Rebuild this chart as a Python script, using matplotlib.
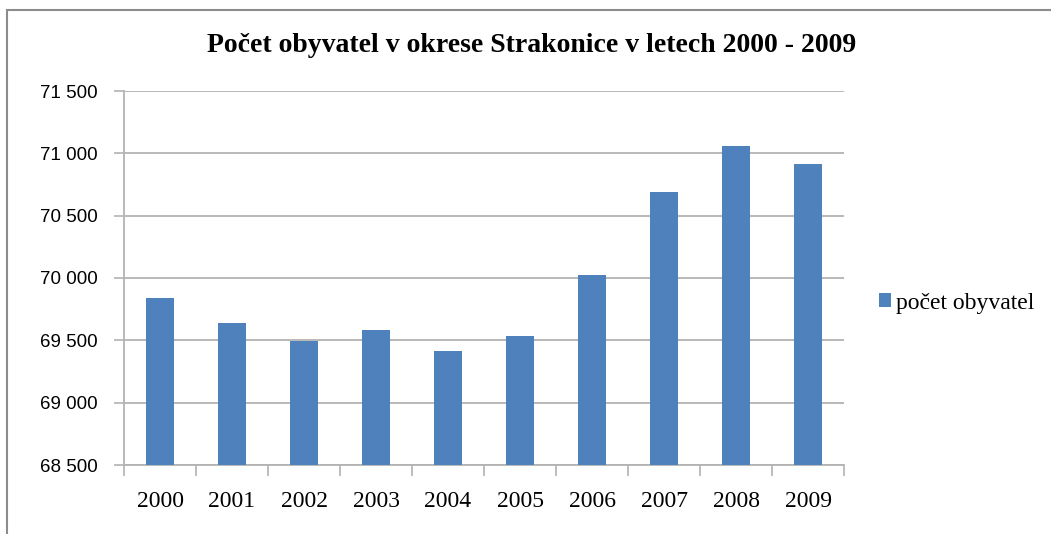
import numpy as np
import matplotlib
matplotlib.use("Agg")
import matplotlib.pyplot as plt
from matplotlib.ticker import FuncFormatter, FixedLocator
from matplotlib.patches import Rectangle

years = ['2000', '2001', '2002', '2003', '2004', '2005', '2006', '2007', '2008', '2009']
pocet = [69837, 69638, 69497, 69583, 69413, 69537, 70027, 70690, 71062, 70913]
y_ticks = [68500, 69000, 69500, 70000, 70500, 71000, 71500]

title = 'Počet obyvatel v okrese Strakonice v letech 2000 - 2009'
series_name = 'počet obyvatel'

bar_color = '#4F81BD'
grid_color = '#B3B3B3'
serif = 'Liberation Serif'
sans = 'Liberation Sans'

W, H = 1051, 534
fig = plt.figure(figsize=(W / 100, H / 100), dpi=100)
# outer chart frame (only top/left edges visible in the reference)
fig.patches.append(Rectangle((7/W, -0.1), 1.2, 1 - 10/H + 0.1, transform=fig.transFigure,
                             fill=False, edgecolor='#8C8C8C', linewidth=1.5))

ax = fig.add_axes([124/W, 1 - 465/H, (844-124)/W, (465-91)/H])
x = np.arange(len(years))
ax.bar(x, pocet, width=0.4, color=bar_color, label=series_name, zorder=3)

ax.set_ylim(68500, 71500)
ax.set_xlim(-0.5, len(years) - 0.5)
ax.yaxis.set_major_locator(FixedLocator(y_ticks))
ax.yaxis.set_major_formatter(FuncFormatter(lambda v, p: '{:,.0f}'.format(v).replace(',', ' ')))
ax.grid(axis='y', color=grid_color, linewidth=1.3, zorder=0)

ax.set_xticks(x)
ax.set_xticklabels(years, fontfamily=serif, fontsize=17)
ax.set_xticks(np.arange(len(years) + 1) - 0.5, minor=True)
ax.tick_params(axis='x', which='major', length=0, pad=19)
ax.tick_params(axis='x', which='minor', length=8, color=grid_color, width=1.2)
ax.tick_params(axis='y', length=7, color=grid_color, width=1.2, labelsize=13.5, pad=12)
for lab in ax.get_yticklabels():
    lab.set_fontfamily(sans)

for s in ['top', 'right']:
    ax.spines[s].set_visible(False)
for s in ['left', 'bottom']:
    ax.spines[s].set_color(grid_color)
    ax.spines[s].set_linewidth(1.3)

fig.text(532/W, 1 - 45/H, title, ha='center', va='center',
         fontfamily=serif, fontweight='bold', fontsize=20)

fig.legend(loc='center left', bbox_to_anchor=(879/W, 1 - 303/H), frameon=False,
           prop={'family': serif, 'size': 17}, handlelength=0.5, handleheight=0.5,
           handletextpad=0.2, borderpad=0, borderaxespad=0)

fig.savefig('out.png', dpi=100)
